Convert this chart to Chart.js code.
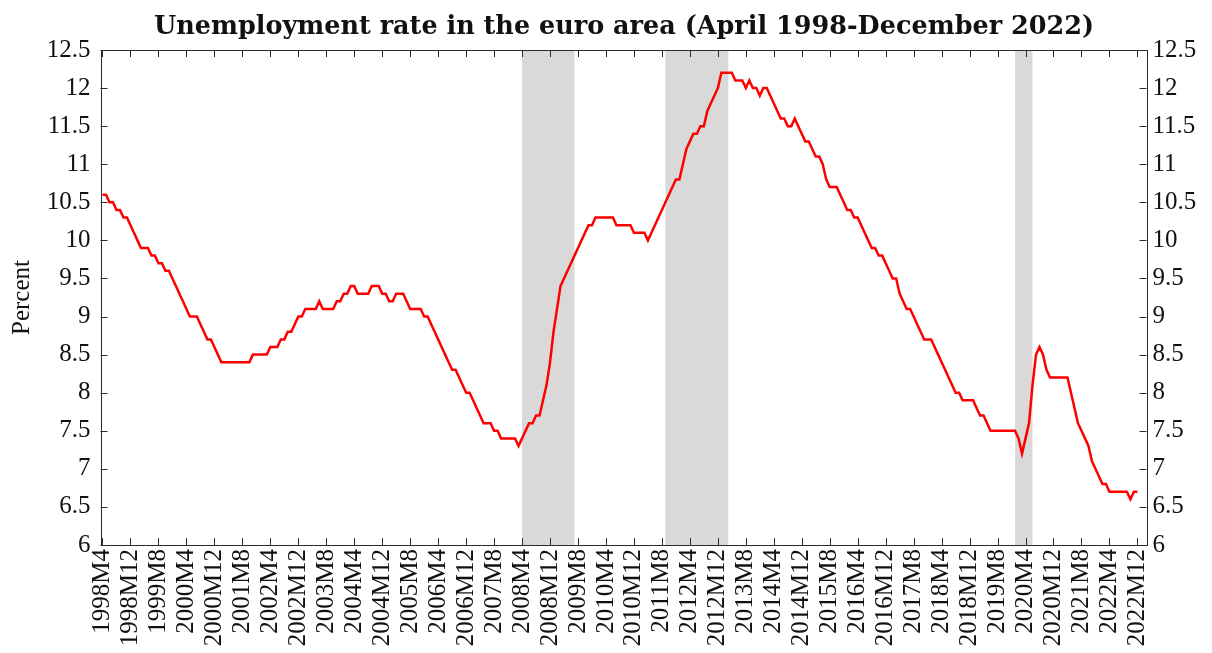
<!DOCTYPE html>
<html>
<head>
<meta charset="utf-8">
<title>Unemployment rate in the euro area</title>
<script src="https://cdn.jsdelivr.net/npm/chart.js@4.4.0/dist/chart.umd.min.js"></script>
<style>
  html, body { margin: 0; padding: 0; background: #fff; }
  #wrap { width: 1212px; height: 653px; }
</style>
</head>
<body>
<div id="wrap"><canvas id="unempChart" width="1212" height="653"></canvas></div>
<script>
// monthly unemployment rate, percent (1998 starts in April)
const rate1998 = [10.6, 10.6, 10.5, 10.5, 10.4, 10.4, 10.3, 10.3, 10.2];
const rate1999 = [10.1, 10.0, 9.9, 9.9, 9.9, 9.8, 9.8, 9.7, 9.7, 9.6, 9.6, 9.5];
const rate2000 = [9.4, 9.3, 9.2, 9.1, 9.0, 9.0, 9.0, 8.9, 8.8, 8.7, 8.7, 8.6];
const rate2001 = [8.5, 8.4, 8.4, 8.4, 8.4, 8.4, 8.4, 8.4, 8.4, 8.4, 8.5, 8.5];
const rate2002 = [8.5, 8.5, 8.5, 8.6, 8.6, 8.6, 8.7, 8.7, 8.8, 8.8, 8.9, 9.0];
const rate2003 = [9.0, 9.1, 9.1, 9.1, 9.1, 9.2, 9.1, 9.1, 9.1, 9.1, 9.2, 9.2];
const rate2004 = [9.3, 9.3, 9.4, 9.4, 9.3, 9.3, 9.3, 9.3, 9.4, 9.4, 9.4, 9.3];
const rate2005 = [9.3, 9.2, 9.2, 9.3, 9.3, 9.3, 9.2, 9.1, 9.1, 9.1, 9.1, 9.0];
const rate2006 = [9.0, 8.9, 8.8, 8.7, 8.6, 8.5, 8.4, 8.3, 8.3, 8.2, 8.1, 8.0];
const rate2007 = [8.0, 7.9, 7.8, 7.7, 7.6, 7.6, 7.6, 7.5, 7.5, 7.4, 7.4, 7.4];
const rate2008 = [7.4, 7.4, 7.3, 7.4, 7.5, 7.6, 7.6, 7.7, 7.7, 7.9, 8.1, 8.4];
const rate2009 = [8.8, 9.1, 9.4, 9.5, 9.6, 9.7, 9.8, 9.9, 10.0, 10.1, 10.2, 10.2];
const rate2010 = [10.3, 10.3, 10.3, 10.3, 10.3, 10.3, 10.2, 10.2, 10.2, 10.2, 10.2, 10.1];
const rate2011 = [10.1, 10.1, 10.1, 10.0, 10.1, 10.2, 10.3, 10.4, 10.5, 10.6, 10.7, 10.8];
const rate2012 = [10.8, 11.0, 11.2, 11.3, 11.4, 11.4, 11.5, 11.5, 11.7, 11.8, 11.9, 12.0];
const rate2013 = [12.2, 12.2, 12.2, 12.2, 12.1, 12.1, 12.1, 12.0, 12.1, 12.0, 12.0, 11.9];
const rate2014 = [12.0, 12.0, 11.9, 11.8, 11.7, 11.6, 11.6, 11.5, 11.5, 11.6, 11.5, 11.4];
const rate2015 = [11.3, 11.3, 11.2, 11.1, 11.1, 11.0, 10.8, 10.7, 10.7, 10.7, 10.6, 10.5];
const rate2016 = [10.4, 10.4, 10.3, 10.3, 10.2, 10.1, 10.0, 9.9, 9.9, 9.8, 9.8, 9.7];
const rate2017 = [9.6, 9.5, 9.5, 9.3, 9.2, 9.1, 9.1, 9.0, 8.9, 8.8, 8.7, 8.7];
const rate2018 = [8.7, 8.6, 8.5, 8.4, 8.3, 8.2, 8.1, 8.0, 8.0, 7.9, 7.9, 7.9];
const rate2019 = [7.9, 7.8, 7.7, 7.7, 7.6, 7.5, 7.5, 7.5, 7.5, 7.5, 7.5, 7.5];
const rate2020 = [7.5, 7.4, 7.2, 7.4, 7.6, 8.1, 8.5, 8.6, 8.5, 8.3, 8.2, 8.2];
const rate2021 = [8.2, 8.2, 8.2, 8.2, 8.0, 7.8, 7.6, 7.5, 7.4, 7.3, 7.1, 7.0];
const rate2022 = [6.9, 6.8, 6.8, 6.7, 6.7, 6.7, 6.7, 6.7, 6.7, 6.6, 6.7, 6.7];

const firstYear = 1998;
const firstMonth = 4;

const tickLabels = [
  '1998M4', '1998M12', '1999M8', '2000M4', '2000M12', '2001M8', '2002M4', '2002M12',
  '2003M8', '2004M4', '2004M12', '2005M8', '2006M4', '2006M12', '2007M8', '2008M4',
  '2008M12', '2009M8', '2010M4', '2010M12', '2011M8', '2012M4', '2012M12', '2013M8',
  '2014M4', '2014M12', '2015M8', '2016M4', '2016M12', '2017M8', '2018M4', '2018M12',
  '2019M8', '2020M4', '2020M12', '2021M8', '2022M4', '2022M12'
];
const yTicks = [6, 6.5, 7, 7.5, 8, 8.5, 9, 9.5, 10, 10.5, 11, 11.5, 12, 12.5];

// recession periods (shaded)
const recessionStart = ['2008M4', '2011M9', '2020M1'];
const recessionEnd = ['2009M7', '2013M3', '2020M6'];

const yearly = [rate1998, rate1999, rate2000, rate2001, rate2002, rate2003, rate2004, rate2005,
  rate2006, rate2007, rate2008, rate2009, rate2010, rate2011, rate2012, rate2013, rate2014,
  rate2015, rate2016, rate2017, rate2018, rate2019, rate2020, rate2021, rate2022];

const months = [];
const rates = [];
yearly.forEach((arr, k) => {
  const year = firstYear + k;
  const m0 = k === 0 ? firstMonth : 1;
  arr.forEach((v, j) => {
    months.push(year + 'M' + (m0 + j));
    rates.push(v);
  });
});

const tickIdx = tickLabels.map(l => months.indexOf(l));
const serif = "'Liberation Serif', 'Times New Roman', serif";
const axisColor = '#2b2b2b';

const recessionShade = {
  id: 'recessionShade',
  beforeDatasetsDraw(chart) {
    const { ctx, chartArea, scales } = chart;
    ctx.save();
    ctx.fillStyle = '#d9d9d9';
    recessionStart.forEach((s, k) => {
      const x1 = scales.x.getPixelForValue(months.indexOf(s));
      const x2 = scales.x.getPixelForValue(months.indexOf(recessionEnd[k]));
      ctx.fillRect(x1, chartArea.top, x2 - x1, chartArea.bottom - chartArea.top);
    });
    ctx.restore();
  }
};

// box around the plot with inward tick marks
const frameTicks = {
  id: 'frameTicks',
  afterDraw(chart) {
    const { ctx, chartArea: a, scales } = chart;
    const len = 7;
    ctx.save();
    ctx.strokeStyle = axisColor;
    ctx.lineWidth = 1;
    ctx.beginPath();
    tickIdx.forEach(i => {
      const x = Math.round(scales.x.getPixelForValue(i)) + 0.5;
      ctx.moveTo(x, a.bottom); ctx.lineTo(x, a.bottom - len);
      ctx.moveTo(x, a.top); ctx.lineTo(x, a.top + len);
    });
    yTicks.forEach(v => {
      const y = Math.round(scales.y.getPixelForValue(v)) + 0.5;
      ctx.moveTo(a.left, y); ctx.lineTo(a.left + len, y);
      ctx.moveTo(a.right, y); ctx.lineTo(a.right - len, y);
    });
    ctx.stroke();
    ctx.strokeRect(Math.round(a.left) + 0.5, Math.round(a.top) + 0.5,
      Math.round(a.right - a.left), Math.round(a.bottom - a.top));
    ctx.restore();
  }
};

const yTickOpts = (pad) => ({
  color: '#111',
  font: { family: serif, size: 25 },
  padding: pad,
  stepSize: 0.5,
  callback: v => String(v)
});

new Chart(document.getElementById('unempChart'), {
  type: 'line',
  data: {
    datasets: [{
      label: 'Unemployment rate',
      data: rates.map((v, i) => ({ x: i, y: v })),
      borderColor: '#ff0000',
      borderWidth: 2.5,
      pointRadius: 0,
      tension: 0,
      fill: false
    }]
  },
  options: {
    responsive: false,
    animation: false,
    // left padding only to centre the title over the plot box
    layout: { padding: { left: 36, right: 0, top: 0, bottom: 0 } },
    plugins: {
      legend: { display: false },
      tooltip: { enabled: false },
      title: {
        display: true,
        text: 'Unemployment rate in the euro area (April 1998-December 2022)',
        color: '#111',
        font: { family: "'DejaVu Serif', serif", weight: 'bold', size: 25.5 },
        padding: { top: 12, bottom: 7.4 }
      }
    },
    scales: {
      x: {
        type: 'linear',
        min: -0.57,
        max: 298.6,
        grid: { display: false, drawTicks: false },
        border: { display: false },
        afterBuildTicks: scale => { scale.ticks = tickIdx.map(v => ({ value: v })); },
        afterFit: scale => { scale.height = 108; },
        ticks: {
          color: '#111',
          font: { family: serif, size: 25 },
          padding: 4,
          autoSkip: false,
          minRotation: 90,
          maxRotation: 90,
          callback: v => months[v]
        }
      },
      y: {
        position: 'left',
        min: 6,
        max: 12.5,
        grid: { display: false, drawTicks: false },
        border: { display: false },
        afterFit: scale => { scale.width = 64.5; },
        title: {
          display: true,
          text: 'Percent',
          color: '#111',
          font: { family: serif, size: 25 },
          padding: { top: -29, bottom: 0 }
        },
        ticks: yTickOpts(10)
      },
      y2: {
        position: 'right',
        min: 6,
        max: 12.5,
        grid: { display: false, drawTicks: false },
        border: { display: false },
        afterFit: scale => { scale.width = 65.5; },
        ticks: yTickOpts(6)
      }
    }
  },
  plugins: [recessionShade, frameTicks]
});
</script>
</body>
</html>
